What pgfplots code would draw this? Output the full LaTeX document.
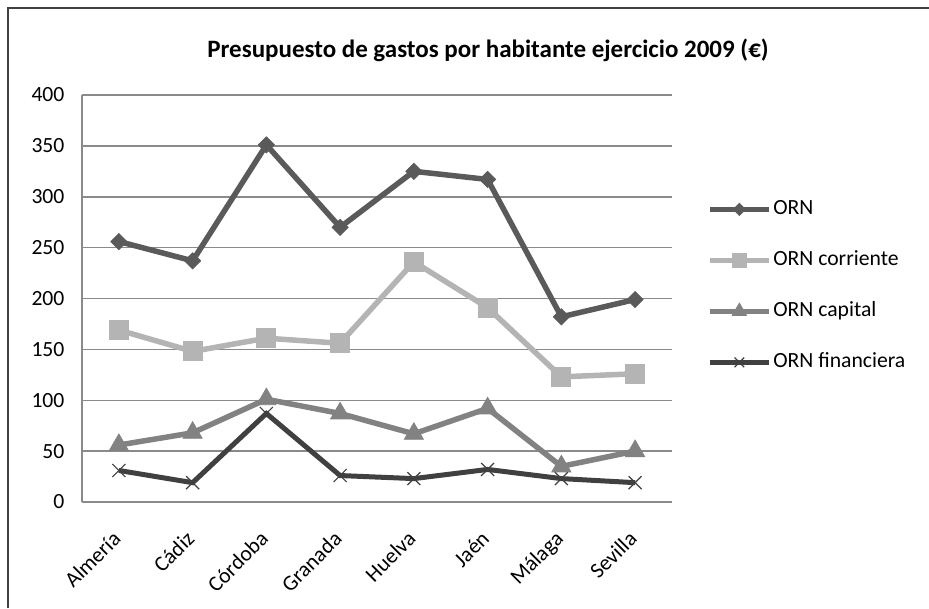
\documentclass[border=0pt]{standalone}
\usepackage{pgfplots}
\pgfplotsset{compat=1.18}
\usepackage{fontspec}
\setmainfont{Carlito}
\definecolor{cOrn}{HTML}{5A5A5A}
\definecolor{cCor}{HTML}{B4B4B4}
\definecolor{cCap}{HTML}{828282}
\definecolor{cFin}{HTML}{404040}
\definecolor{cGrid}{HTML}{8A8A8A}
\begin{document}
\begin{tikzpicture}[x=0.6pt,y=0.6pt]
% picture area in px units, origin at lower-left corner of plot area
\useasboundingbox (-82,-106) rectangle (847,502);
\draw[line width=1.2pt, black!75] (-74,-106) -- (-74,494) -- (847,494);
\node[font=\fontsize{15}{18}\selectfont\bfseries] at (406,452) {Presupuesto de gastos por habitante ejercicio 2009 (€)};
\begin{axis}[
  at={(0,0)}, anchor=south west,
  scale only axis, width=354pt, height=244.2pt,
  xmin=-0.5, xmax=7.5, ymin=0, ymax=400,
  xtick={0,...,7},
  xticklabels={Almería,Cádiz,Córdoba,Granada,Huelva,Jaén,Málaga,Sevilla},
  ytick={0,50,...,400},
  ymajorgrids, grid style={cGrid, line width=0.9pt},
  axis x line*=bottom, axis y line*=left,
  axis line style={cGrid, line width=0.9pt, -},
  major tick length=0pt,
  tick label style={font=\fontsize{13}{15}\selectfont},
  /pgf/number format/assume math mode=true,
  yticklabel style={xshift=-7pt},
  xticklabel style={rotate=45, anchor=north east, yshift=-5pt, xshift=-11.5pt},
  clip=false,
  legend style={draw=none, fill=none, at={(1.059,0.531)}, anchor=west,
    font=\fontsize{13}{15}\selectfont, row sep=18.6pt, inner sep=0pt,
    nodes={inner ysep=0pt, inner xsep=1pt, text height=9pt, text depth=3pt},
    legend cell align=left},
  legend image code/.code={
    \draw[mark repeat=2, mark phase=2, every mark/.append style={scale=0.75}]
      plot coordinates {(0pt,0pt) (17.7pt,0pt) (35.4pt,0pt)};},
]
\addplot[cOrn, line width=3.3pt, mark=square*, mark size=3.4pt, mark options={solid, rotate=45, line width=0.5pt}]
  coordinates {(0,256) (1,237) (2,351) (3,270) (4,325) (5,317) (6,182) (7,199)};
\addlegendentry{ORN}
\addplot[cCor, line width=3.3pt, mark=square*, mark size=5.7pt, mark options={solid, line width=0.5pt}]
  coordinates {(0,169) (1,148) (2,161) (3,156) (4,236) (5,191) (6,123) (7,126)};
\addlegendentry{ORN corriente}
\addplot[cCap, line width=3.3pt, mark=triangle*, mark size=6.6pt, mark options={solid, line width=0.5pt}]
  coordinates {(0,56) (1,68) (2,101) (3,87) (4,67) (5,92) (6,35) (7,50)};
\addlegendentry{ORN capital}
\addplot[cFin, line width=3pt, mark=x, mark size=5.5pt, mark options={solid, line width=0.7pt}]
  coordinates {(0,31) (1,19) (2,87) (3,26) (4,23) (5,32) (6,23) (7,19)};
\addlegendentry{ORN financiera}
\end{axis}
\end{tikzpicture}
\end{document}
